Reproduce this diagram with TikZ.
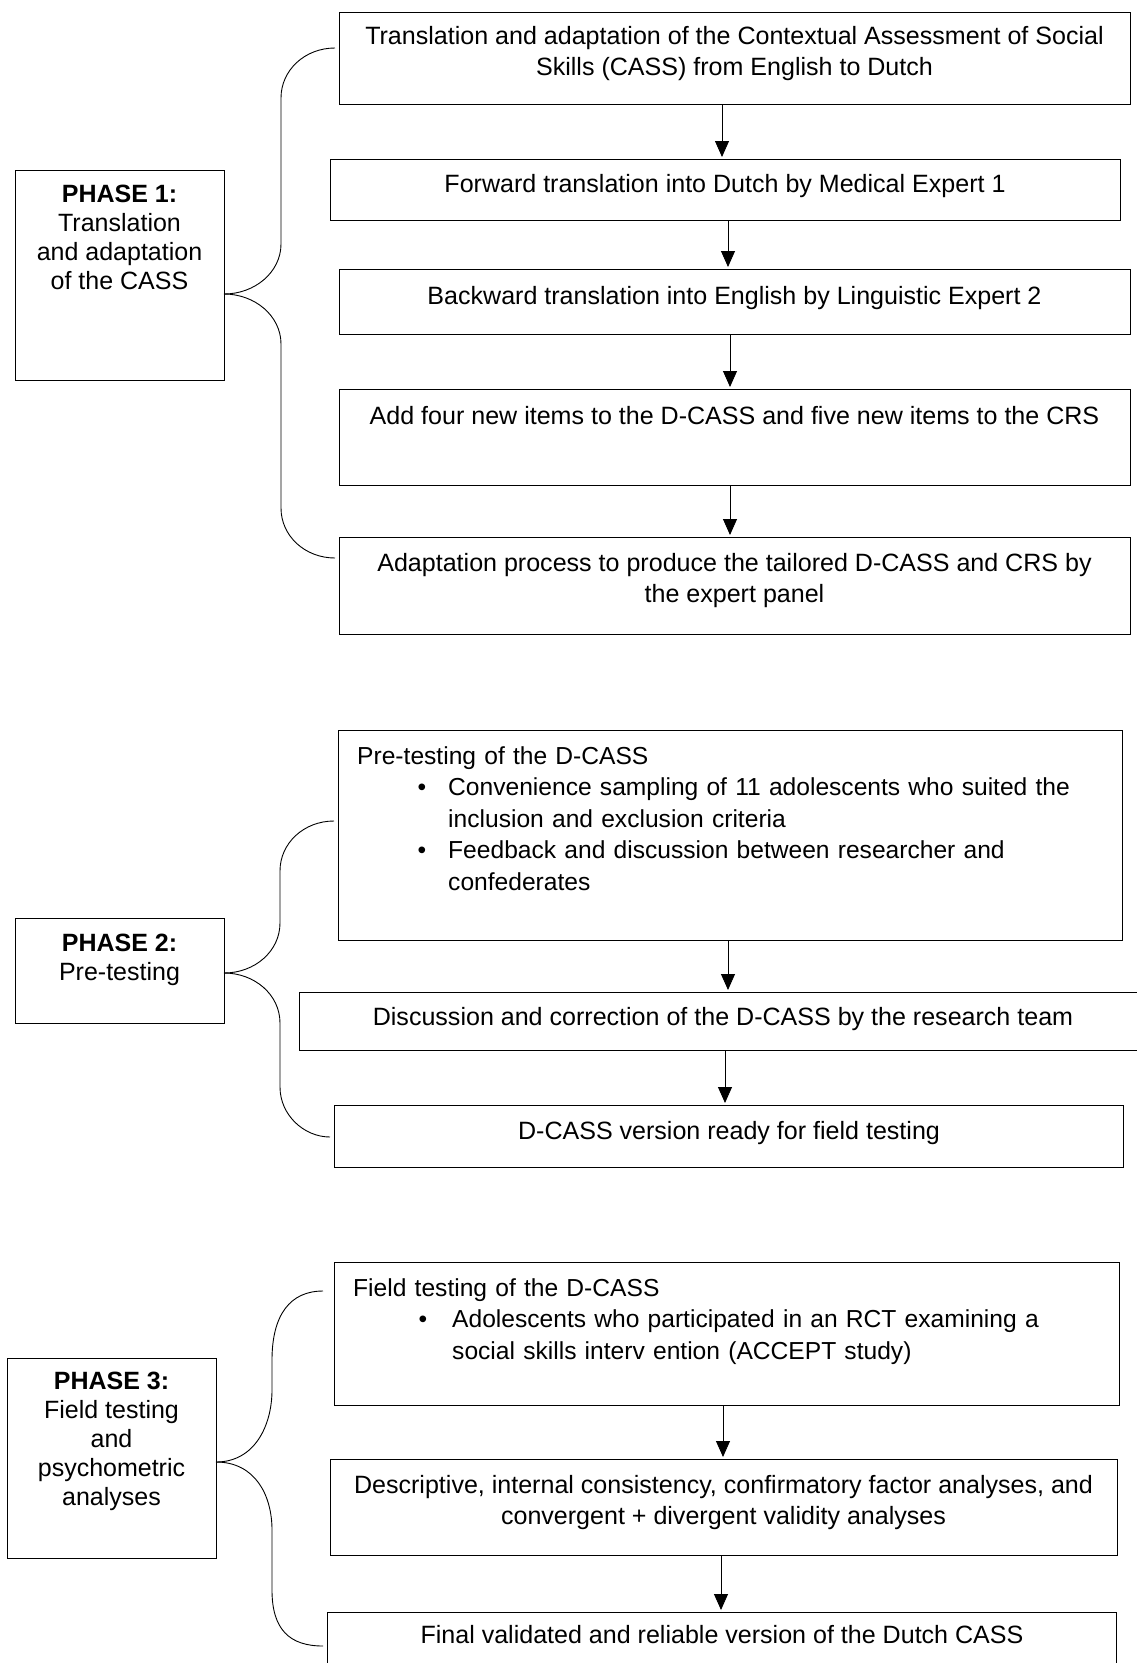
\documentclass[tikz,border=0pt]{standalone}
\usepackage{fontspec}
\setmainfont{Liberation Sans}
\usetikzlibrary{arrows.meta}
\begin{document}
\begin{tikzpicture}[x=1pt,y=-1pt,
  box/.style={draw, line width=1.1pt, rectangle, inner sep=0pt, anchor=north west},
  txt/.style={font=\fontsize{25.05}{31.5}\selectfont, align=center, inner sep=0pt, anchor=north},
  txtl/.style={font=\fontsize{24.6}{31.5}\selectfont, align=left, text width=760pt, inner sep=0pt, anchor=north west},
  lbl/.style={font=\fontsize{25}{29}\selectfont, align=center, inner sep=0pt, anchor=north},
  arr/.style={line width=0.9pt, -{Triangle[length=16pt,width=14pt]}, shorten >=2pt},
  brc/.style={line width=0.9pt},
]
\useasboundingbox (0,0) rectangle (1137,1663);
\fill[white] (0,0) rectangle (1137,1663);

% ---------- Phase 1 ----------
\node[box, minimum width=209pt, minimum height=210pt] (p1) at (15,170) {};
\node[lbl] (l1) at (119.5,185) {\textbf{PHASE 1:}\\Translation\\and adaptation\\of the CASS};

\node[box, minimum width=791pt, minimum height=92pt] (b1) at (339,12) {};
\node[box, minimum width=790pt, minimum height=61pt] (b2) at (330,159) {};
\node[box, minimum width=791pt, minimum height=65pt] (b3) at (339,269) {};
\node[box, minimum width=791pt, minimum height=96pt] (b4) at (339,389) {};
\node[box, minimum width=791pt, minimum height=97pt] (b5) at (339,537) {};

\node[txt] (t1) at (734.5,26) {Translation and adaptation of the Contextual Assessment of Social\\Skills (CASS) from English to Dutch};
\node[txt] (t2) at (725,174) {Forward translation into Dutch by Medical Expert 1};
\node[txt] (t3) at (734.5,286) {Backward translation into English by Linguistic Expert 2};
\node[txt] (t4) at (734.5,406) {Add four new items to the D-CASS and five new items to the CRS};
\node[txt] (t5) at (734.5,553) {Adaptation process to produce the tailored D-CASS and CRS by\\the expert panel};

\coordinate (ax1) at (722,0);
\coordinate (ax2) at (728,0);
\coordinate (ax3) at (730,0);
\draw[arr] (b1.south -| ax1) -- (b2.north -| ax1);
\draw[arr] (b2.south -| ax2) -- (b3.north -| ax2);
\draw[arr] (b3.south -| ax3) -- (b4.north -| ax3);
\draw[arr] (b4.south -| ax3) -- (b5.north -| ax3);

\coordinate (p1tip) at (224,294);
\coordinate (p1up) at (335,48);
\coordinate (p1dn) at (335,558);
\draw[brc] (p1tip) .. controls (255,294) and (281,272) .. (281,244) -- (281,98) .. controls (281,70) and (305,48) .. (p1up);
\draw[brc] (p1tip) .. controls (255,294) and (281,316) .. (281,344) -- (281,508) .. controls (281,536) and (305,558) .. (p1dn);

% ---------- Phase 2 ----------
\node[box, minimum width=209pt, minimum height=105pt] (p2) at (15,918) {};
\node[lbl] (l2) at (119.5,934) {\textbf{PHASE 2:}\\Pre-testing};

\node[box, minimum width=784pt, minimum height=210pt] (b6) at (338,730) {};
\node[box, minimum width=900pt, minimum height=58pt] (b7) at (299,992) {};
\node[box, minimum width=789pt, minimum height=62pt] (b8) at (334,1105) {};

\node[txtl] (t6) at (357,746) {Pre-testing of the D-CASS\par
\leftskip=91pt
\noindent\llap{\textbullet\hspace{22pt}}Convenience sampling of 11 adolescents who suited the\newline inclusion and exclusion criteria\par
\noindent\llap{\textbullet\hspace{22pt}}Feedback and discussion between researcher and\newline confederates\par};
\node[txt] (t7) at (723,1007) {Discussion and correction of the D-CASS by the research team};
\node[txt] (t8) at (729,1121) {D-CASS version ready for field testing};

\coordinate (ax5) at (728,0);
\coordinate (ax6) at (725,0);
\draw[arr] (b6.south -| ax5) -- (b7.north -| ax5);
\draw[arr] (b7.south -| ax6) -- (b8.north -| ax6);

\coordinate (p2tip) at (224,973);
\coordinate (p2up) at (334,821);
\coordinate (p2dn) at (330,1137);
\draw[brc] (p2tip) .. controls (255,973) and (280,951) .. (280,923) -- (280,871) .. controls (280,843) and (304,821) .. (p2up);
\draw[brc] (p2tip) .. controls (255,973) and (280,995) .. (280,1023) -- (280,1087) .. controls (280,1115) and (304,1137) .. (p2dn);

% ---------- Phase 3 ----------
\node[box, minimum width=209pt, minimum height=200pt] (p3) at (7,1358) {};
\node[lbl] (l3) at (111.5,1372) {\textbf{PHASE 3:}\\Field testing\\and\\psychometric\\analyses};

\node[box, minimum width=785pt, minimum height=143pt] (b9) at (334,1262) {};
\node[box, minimum width=787pt, minimum height=96pt] (b10) at (330,1459) {};
\node[box, minimum width=789pt, minimum height=100pt] (b11) at (327,1612) {};

\node[txtl] (t9) at (353,1278) {Field testing of the D-CASS\par
\leftskip=99pt
\noindent\llap{\textbullet\hspace{25pt}}Adolescents who participated in an RCT examining a\newline social skills interv ention (ACCEPT study)\par};
\node[txt] (t10) at (723.5,1475) {Descriptive, internal consistency, confirmatory factor analyses, and\\convergent + divergent validity analyses};
\node[txt] (t11) at (722,1625) {Final validated and reliable version of the Dutch CASS};

\coordinate (ax7) at (723,0);
\coordinate (ax8) at (721,0);
\draw[arr] (b9.south -| ax7) -- (b10.north -| ax7);
\draw[arr] (b10.south -| ax8) -- (b11.north -| ax8);

\coordinate (p3tip) at (216,1462);
\coordinate (p3up) at (323,1291);
\coordinate (p3dn) at (323,1646);
\draw[brc] (p3tip) .. controls (255,1462) and (272,1425) .. (272,1390) -- (272,1360) .. controls (272,1315) and (290,1291) .. (p3up);
\draw[brc] (p3tip) .. controls (255,1462) and (272,1495) .. (272,1530) -- (272,1590) .. controls (272,1630) and (290,1646) .. (p3dn);
\end{tikzpicture}
\end{document}
